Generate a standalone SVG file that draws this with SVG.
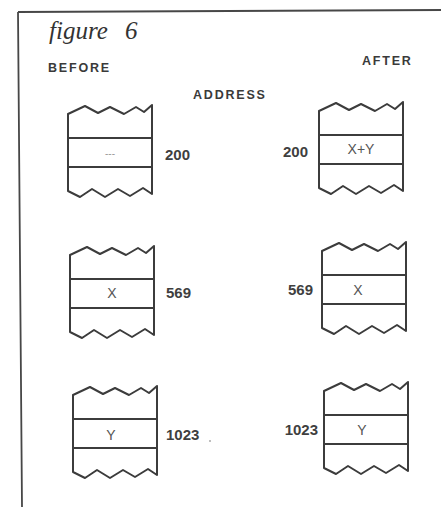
<svg xmlns="http://www.w3.org/2000/svg" xmlns:xlink="http://www.w3.org/1999/xlink" width="441" height="507" viewBox="0 0 441 507">
<style>
.frame{fill:none;stroke:#474747;stroke-width:1.8}
.box{fill:none;stroke:#3c3c3c;stroke-width:2;stroke-linejoin:round}
.head{font-family:"Liberation Sans",Arial,sans-serif;font-weight:bold;font-size:12.5px;letter-spacing:1.8px;fill:#3a3a3a}
.title{font-family:"Liberation Serif","Times New Roman",serif;font-style:italic;font-size:25px;fill:#333;word-spacing:11px}
.addr{font-family:"Liberation Sans",Arial,sans-serif;font-weight:bold;font-size:15px;fill:#3f3f3f}
.val{font-family:"Liberation Sans",Arial,sans-serif;font-size:14px;fill:#555;text-anchor:middle}
.dots{font-family:"Liberation Sans",Arial,sans-serif;font-size:10px;fill:#999;text-anchor:middle}
</style>
<defs>
<g id="mem">
<path class="box" d="M0,9 L17,1 L30,8 L42,2 L56,9 L68,2 L76,7 L84,0 L84,89 L75,83 L62,91 L50,84 L37,92 L24,84 L12,92 L0,86 Z"/>
<line class="box" x1="0" y1="33" x2="84" y2="33"/>
<line class="box" x1="0" y1="62" x2="84" y2="62"/>
</g>
</defs>
<g id="frame">
<path class="frame" d="M18,12 L441,10 M18,12 L22,507"/>
</g>
<g id="labels">
<text class="title" x="49" y="39">figure 6</text>
<text class="head" x="48" y="72">BEFORE</text>
<text class="head" x="362" y="65">AFTER</text>
<text class="head" x="193" y="99">ADDRESS</text>
</g>
<g id="before-200">
<use xlink:href="#mem" x="68" y="105"/>
<text class="dots" x="110" y="157">---</text>
<text class="addr" x="165" y="160">200</text>
</g>
<g id="after-200">
<use xlink:href="#mem" x="319" y="102"/>
<text class="val" x="361" y="154">X+Y</text>
<text class="addr" x="308" y="157" text-anchor="end">200</text>
</g>
<g id="before-569">
<use xlink:href="#mem" x="70" y="246"/>
<text class="val" x="112" y="298">X</text>
<text class="addr" x="166" y="298">569</text>
</g>
<g id="after-569">
<use xlink:href="#mem" x="322" y="242"/>
<text class="val" x="358" y="295">X</text>
<text class="addr" x="313" y="295" text-anchor="end">569</text>
</g>
<g id="before-1023">
<use xlink:href="#mem" x="73" y="386"/>
<text class="val" x="111" y="440">Y</text>
<text class="addr" x="166" y="440">1023</text>
<circle cx="210" cy="441" r="1" fill="#aaa"/>
</g>
<g id="after-1023">
<use xlink:href="#mem" x="324" y="382"/>
<text class="val" x="362" y="435">Y</text>
<text class="addr" x="318" y="435" text-anchor="end">1023</text>
</g>
<g id="connectors"/>
</svg>
